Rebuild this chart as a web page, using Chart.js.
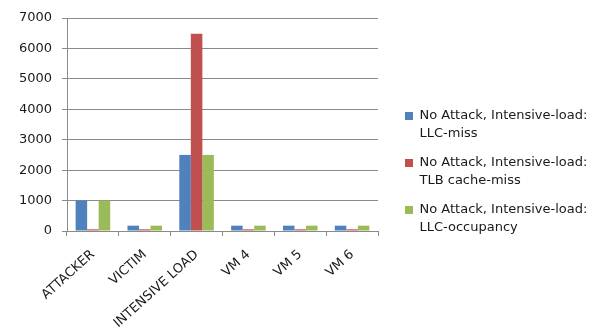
<!DOCTYPE html>
<html>
<head>
<meta charset="utf-8">
<script src="https://cdn.jsdelivr.net/npm/chart.js@4/dist/chart.umd.min.js"></script>
<style>
  html, body { margin: 0; padding: 0; background: #fff; }
  #wrap { width: 610px; height: 329px; }
</style>
</head>
<body>
<div id="wrap"><canvas id="chart" width="610" height="329"></canvas></div>
<script>
// categories (VMs) and the three counters
const categories = ["ATTACKER", "VICTIM", "INTENSIVE LOAD", "VM 4", "VM 5", "VM 6"];
const llcMiss = [1000, 175, 2500, 175, 175, 175];
const tlbMiss = [55, 55, 6480, 55, 55, 55];
const llcOccupancy = [1000, 175, 2500, 175, 175, 175];
const seriesLabels = [
  ["No Attack, Intensive-load:", "LLC-miss"],
  ["No Attack, Intensive-load:", "TLB cache-miss"],
  ["No Attack, Intensive-load:", "LLC-occupancy"],
];
const yTicks = [0, 1000, 2000, 3000, 4000, 5000, 6000, 7000];

const colors = ["#4F81BD", "#C0504D", "#9BBB59"];
const fontFamily = "'DejaVu Sans', sans-serif";
const textColor = "#1a1a1a";
const gridColor = "#8a8a8a";

// legend column: fixed width on the right, items pushed a bit away from the plot
const legendWidth = 232;
const legendShift = { x: 16, y: 1 };

const legendLayout = {
  id: "legendLayout",
  beforeUpdate(chart) {
    const legend = chart.legend;
    if (!legend || legend._fixedFit) return;
    const fit = legend.fit;
    legend.fit = function () {
      fit.call(this);
      this.width = legendWidth;
    };
    legend._fixedFit = true;
  },
  afterLayout(chart) {
    const legend = chart.legend;
    legend.left += legendShift.x;
    legend.right += legendShift.x;
    legend.top += legendShift.y;
    legend.bottom += legendShift.y;
  },
};

const makeDataset = (label, data, color) => ({
  label,
  data,
  backgroundColor: color,
  borderWidth: 0,
  categoryPercentage: 0.667,
  barPercentage: 1.0,
});

new Chart(document.getElementById("chart").getContext("2d"), {
  type: "bar",
  data: {
    labels: categories,
    datasets: [
      makeDataset(seriesLabels[0], llcMiss, colors[0]),
      makeDataset(seriesLabels[1], tlbMiss, colors[1]),
      makeDataset(seriesLabels[2], llcOccupancy, colors[2]),
    ],
  },
  plugins: [legendLayout],
  options: {
    responsive: false,
    animation: false,
    layout: { padding: { left: 20, top: 18, right: 0, bottom: 0 } },
    plugins: {
      tooltip: { enabled: false },
      legend: {
        position: "right",
        labels: {
          boxWidth: 8,
          boxHeight: 8,
          padding: 11,
          color: textColor,
          font: { family: fontFamily, size: 13, lineHeight: "18px" },
        },
      },
    },
    scales: {
      x: {
        grid: {
          offset: true,
          drawOnChartArea: false,
          drawTicks: true,
          tickLength: 5,
          color: gridColor,
        },
        border: { color: gridColor },
        ticks: {
          minRotation: 42,
          maxRotation: 42,
          padding: 11,
          color: textColor,
          font: { family: fontFamily, size: 13 },
        },
        // keep the plot edges where the y axis and legend put them
        afterFit: (scale) => {
          scale.paddingLeft = 0;
          scale.paddingRight = 0;
          scale.height = 98;
        },
      },
      y: {
        min: 0,
        max: 7000,
        afterBuildTicks: (axis) => {
          axis.ticks = yTicks.map((v) => ({ value: v }));
        },
        afterFit: (scale) => {
          scale.width = 47;
          scale.paddingTop = 0;
          scale.paddingBottom = 0;
        },
        grid: { color: gridColor, tickLength: 5 },
        border: { color: gridColor },
        ticks: {
          color: textColor,
          padding: 10,
          font: { family: fontFamily, size: 13 },
          callback: (value) => String(value),
        },
      },
    },
  },
});
</script>
</body>
</html>
